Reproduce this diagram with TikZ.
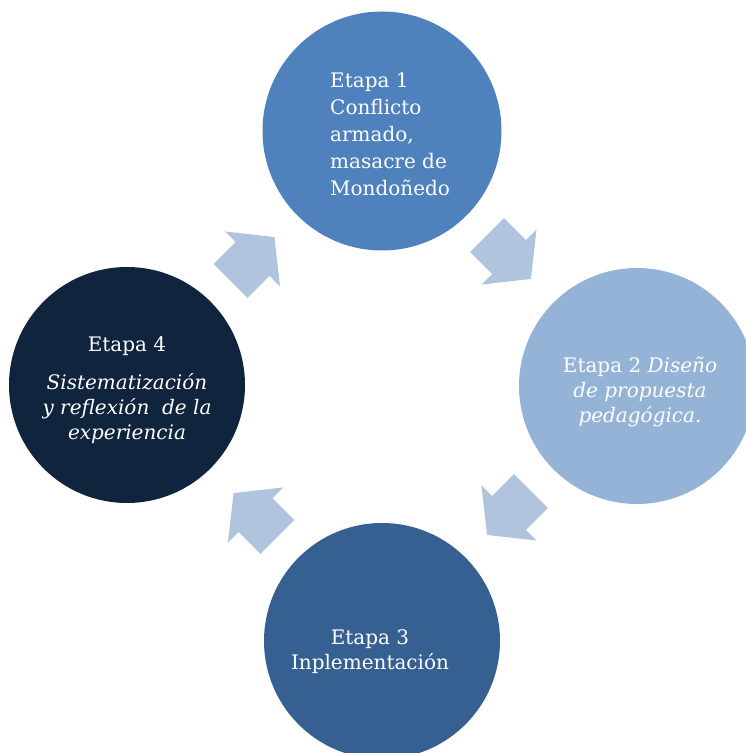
\documentclass[tikz,border=0pt]{standalone}
\usepackage{fontspec}
\setmainfont{DejaVu Serif}

\definecolor{etapauno}{RGB}{79,129,189}
\definecolor{etapados}{RGB}{149,179,215}
\definecolor{etapatres}{RGB}{54,96,146}
\definecolor{etapacuatro}{RGB}{16,36,62}
\definecolor{flechas}{RGB}{176,196,222}

\tikzset{
  etapa/.style={circle, minimum size=236pt, inner sep=0pt, draw=none},
  texto/.style={text=white, inner sep=0pt, font=\fontsize{20}{27}\selectfont},
  flecha/.pic={\fill[flechas] (-31,-24) -- (0,-24) -- (0,-39) -- (31,0) -- (0,39) -- (0,24) -- (-31,24) -- cycle;}
}

\begin{document}
\begin{tikzpicture}[x=1pt, y=1pt]
  \useasboundingbox (0,0) rectangle (745,753);

  % circles
  \node[etapa, fill=etapauno, minimum size=239pt] (e1) at (382,622) {};
  \node[etapa, fill=etapados] (e2) at (637,367) {};
  \node[etapa, fill=etapatres] (e3) at (382,112) {};
  \node[etapa, fill=etapacuatro] (e4) at (127,368) {};

  % arrows
  \pic[rotate=45] at (252.5,494) {flecha};
  \pic[rotate=-45] at (509,496) {flecha};
  \pic[rotate=-135] at (509,240) {flecha};
  \pic[rotate=135] at (255.5,238) {flecha};

  % texts
  \node[texto, align=left, anchor=west] (t1) at ([xshift=-52pt,yshift=-3pt]e1.center)
    {Etapa 1\\Conflicto\\armado,\\masacre de\\Mondoñedo};
  \node[texto, align=center, font=\fontsize{20}{25}\selectfont] (t2) at ([xshift=3pt,yshift=-6pt]e2.center)
    {Etapa 2 \textit{Diseño}\\\textit{de propuesta}\\\textit{pedagógica.}};
  \node[texto, align=center, font=\fontsize{20}{25}\selectfont] (t3) at ([xshift=-12pt,yshift=-11pt]e3.center)
    {Etapa 3\\Inplementación};
  \node[texto, align=center, font=\fontsize{20}{25}\selectfont] (t4) at ([yshift=-5pt]e4.center)
    {Etapa 4\\[13pt]\textit{Sistematización}\\\textit{y reflexión\ \ de la}\\\textit{experiencia}};
\end{tikzpicture}
\end{document}
